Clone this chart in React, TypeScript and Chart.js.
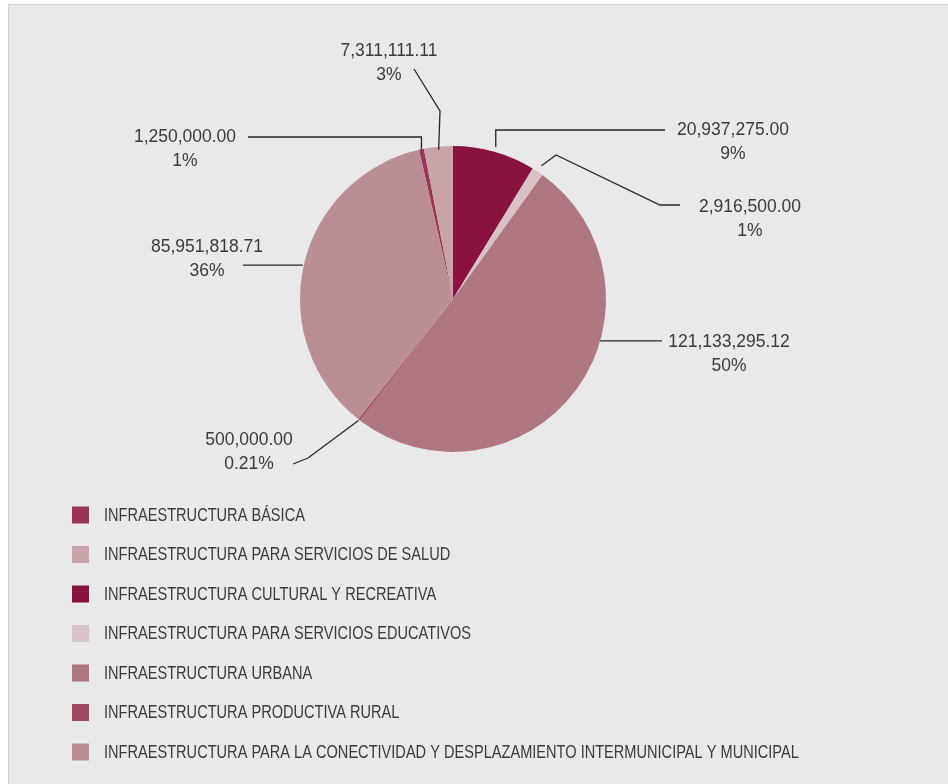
import React, { useEffect, useRef } from "react";
import { Chart, registerables } from "chart.js";

Chart.register(...registerables);

const categories = [
  "INFRAESTRUCTURA BÁSICA",
  "INFRAESTRUCTURA PARA SERVICIOS DE SALUD",
  "INFRAESTRUCTURA CULTURAL Y RECREATIVA",
  "INFRAESTRUCTURA PARA SERVICIOS EDUCATIVOS",
  "INFRAESTRUCTURA URBANA",
  "INFRAESTRUCTURA PRODUCTIVA RURAL",
  "INFRAESTRUCTURA PARA LA CONECTIVIDAD Y DESPLAZAMIENTO INTERMUNICIPAL Y MUNICIPAL",
];

const values = [1250000, 7311111.11, 20937275, 2916500, 121133295.12, 500000, 85951818.71];

const colors = ["#9B3553", "#C8A4A8", "#8A1240", "#D8C2C5", "#AF7780", "#A04A62", "#BA8E94"];

// label layout (centre-relative pixels), per slice in data order
const labelLayout: { t: number; dr: number; path: (number | null)[][]; tx: number; ty: number }[] = [
  { t: 0.5, dr: 0, path: [[null, -162], [-205, null]], tx: -268, ty: -162 },
  { t: 0.5, dr: -3, path: [[-13, -188], [-39, -230]], tx: -64, ty: -248 },
  { t: 0.5, dr: 5, path: [[null, -169], [212, null]], tx: 280, ty: -169 },
  { t: 0.5, dr: 7, path: [[103, -144], [207, -94], [227, null]], tx: 297, ty: -92 },
  { t: 0.386, dr: 0, path: [[209, null]], tx: 276, ty: 43 },
  { t: 0.5, dr: 1, path: [[-145, 159], [-160, 165]], tx: -204, ty: 141 },
  { t: 0.5, dr: 1, path: [[-210, null]], tx: -246, ty: -52 },
];

const total = values.reduce((a, b) => a + b, 0);

function fmtValue(v: number) {
  return v.toLocaleString("en-US", { minimumFractionDigits: 2, maximumFractionDigits: 2 });
}
function fmtPct(v: number) {
  const p = (v / total) * 100;
  return p >= 0.5 ? `${Math.round(p)}%` : `${p.toFixed(2)}%`;
}

const leaderLabels = {
  id: "leaderLabels",
  afterDatasetsDraw(chart: any) {
    const ctx = chart.ctx;
    const meta = chart.getDatasetMeta(0);
    ctx.save();
    meta.data.forEach((arc: any, i: number) => {
      const p = arc.getProps(["x", "y", "startAngle", "endAngle", "outerRadius"], true);
      const L = labelLayout[i];
      const a = p.startAngle + (p.endAngle - p.startAngle) * L.t;
      const r = p.outerRadius + L.dr;
      let px = p.x + Math.cos(a) * r;
      let py = p.y + Math.sin(a) * r;
      ctx.beginPath();
      ctx.moveTo(px, py);
      for (const [ex, ey] of L.path) {
        px = ex == null ? px : p.x + ex;
        py = ey == null ? py : p.y + ey;
        ctx.lineTo(px, py);
      }
      ctx.strokeStyle = "#262626";
      ctx.lineWidth = 1.3;
      ctx.stroke();
      ctx.fillStyle = "#3A3A3A";
      ctx.font = "17.5px 'Liberation Sans', Arial, sans-serif";
      ctx.textAlign = "center";
      ctx.textBaseline = "middle";
      const v = chart.data.datasets[0].data[i];
      ctx.fillText(fmtValue(v), p.x + L.tx, p.y + L.ty);
      ctx.fillText(fmtPct(v), p.x + L.tx, p.y + L.ty + 24.5);
    });
    ctx.restore();
  },
};

const listLegend = {
  id: "listLegend",
  afterDraw(chart: any) {
    const ctx = chart.ctx;
    const o = chart.options.plugins.listLegend;
    const ds = chart.data.datasets[0];
    ctx.save();
    chart.data.labels.forEach((lab: string, i: number) => {
      const cy = o.top + i * o.spacing;
      ctx.fillStyle = ds.backgroundColor[i];
      ctx.fillRect(o.left, cy - o.box / 2, o.box, o.box);
      ctx.save();
      ctx.translate(o.textLeft, cy + 1);
      ctx.scale(o.scaleX, 1);
      ctx.fillStyle = "#3A3A3A";
      ctx.font = o.font;
      ctx.textAlign = "left";
      ctx.textBaseline = "middle";
      ctx.fillText(lab, 0, 0);
      ctx.restore();
    });
    ctx.restore();
  },
};

export default function App() {
  const ref = useRef<HTMLCanvasElement | null>(null);
  useEffect(() => {
    if (!ref.current) return;
    const rotation = -((values[0] + values[1]) / total) * 360;
    const chart = new Chart(ref.current, {
      type: "pie",
      data: {
        labels: categories,
        datasets: [
          {
            data: values,
            backgroundColor: colors,
            borderWidth: 0,
            hoverOffset: 0,
          },
        ],
      },
      plugins: [leaderLabels, listLegend],
      options: {
        animation: false,
        responsive: true,
        maintainAspectRatio: false,
        rotation,
        layout: { padding: { left: 291, right: 342, top: 141, bottom: 332 } },
        plugins: {
          legend: { display: false },
          tooltip: { enabled: false },
          listLegend: {
            left: 63,
            textLeft: 95,
            top: 510,
            spacing: 39.5,
            box: 17,
            scaleX: 0.81,
            font: "18px 'Liberation Sans', Arial, sans-serif",
          },
        } as any,
      },
    });
    return () => chart.destroy();
  }, []);
  return (
    <div
      style={{
        position: "fixed",
        left: 8,
        top: 4,
        width: 940,
        height: 780,
        background: "#E8E9E8",
        borderTop: "1px solid #D4D4D4",
        borderLeft: "1px solid #D4D4D4",
        boxSizing: "border-box",
      }}
    >
      <canvas ref={ref} />
    </div>
  );
}
